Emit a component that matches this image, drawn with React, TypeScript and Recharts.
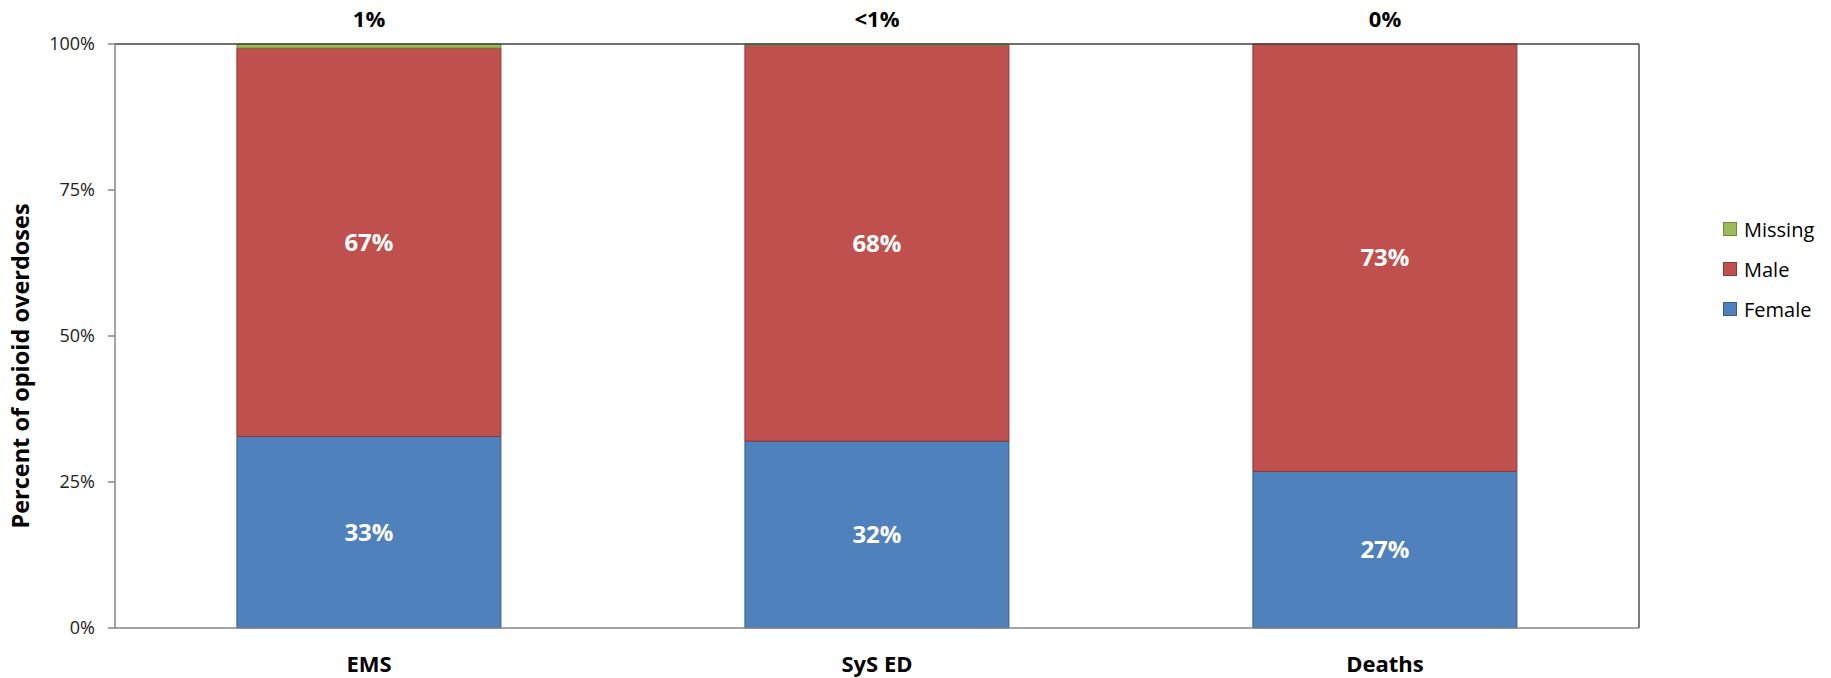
import React from 'react';
import { BarChart, Bar, XAxis, YAxis, Legend, LabelList } from 'recharts';

const categories = ['EMS', 'SyS ED', 'Deaths'];
const femaleValues = [32.8, 32.0, 26.8];
const maleValues = [66.5, 67.8, 73.2];
const missingValues = [0.7, 0.2, 0];
const topLabels = ['1%', '<1%', '0%'];
const yTicks = [0, 25, 50, 75, 100];

const data = categories.map((c, i) => ({
  category: c,
  Female: femaleValues[i],
  Male: maleValues[i],
  Missing: missingValues[i],
}));

const FONT = '"Open Sans", "DejaVu Sans", sans-serif';

const legendItems = [
  { name: 'Missing', fill: '#9BBB59', stroke: '#71893F' },
  { name: 'Male', fill: '#C0504D', stroke: '#8C3836' },
  { name: 'Female', fill: '#4F81BD', stroke: '#385D8A' },
];

const LegendContent = () => (
  <div style={{ fontFamily: FONT, fontSize: 20, color: '#000' }}>
    {legendItems.map((it) => (
      <div key={it.name} style={{ display: 'flex', alignItems: 'center', height: 40 }}>
        <div
          style={{
            width: 12,
            height: 12,
            background: it.fill,
            border: `1px solid ${it.stroke}`,
            marginRight: 7,
          }}
        />
        <span>{it.name}</span>
      </div>
    ))}
  </div>
);

const YTitle = (props: any) => {
  const vb = props.viewBox || {};
  const cx = vb.x - 15;
  const cy = vb.y + vb.height / 2 + 30;
  return (
    <text
      x={cx}
      y={cy}
      transform={`rotate(-90, ${cx}, ${cy})`}
      textAnchor="middle"
      dominantBaseline="central"
      fontFamily={FONT}
      fontWeight="bold"
      fontSize={23.5}
      fill="#000"
    >
      Percent of opioid overdoses
    </text>
  );
};

const fmt = (v: any) => `${Math.round(Number(v))}%`;

export default function App() {
  return (
    <div style={{ position: 'absolute', left: 0, top: 0, background: '#fff' }}>
      <BarChart
        width={1831}
        height={678}
        data={data}
        margin={{ top: 0, right: 191, bottom: 0, left: 35 }}
        barCategoryGap="24%"
        style={{ fontFamily: FONT }}
      >
        <XAxis
          xAxisId="top"
          orientation="top"
          dataKey="category"
          height={44}
          tickLine={false}
          tickSize={0}
          tickMargin={17}
          axisLine={{ stroke: '#404040', strokeWidth: 1.5 }}
          tickFormatter={(_v: any, i: number) => topLabels[i]}
          tick={{ fill: '#000', fontSize: 22, fontWeight: 'bold', fontFamily: FONT }}
        />
        <XAxis
          dataKey="category"
          height={50}
          tickLine={false}
          tickSize={0}
          tickMargin={28}
          axisLine={{ stroke: '#868686', strokeWidth: 1.5 }}
          tick={{ fill: '#000', fontSize: 22, fontWeight: 'bold', fontFamily: FONT }}
        />
        <YAxis
          width={80}
          domain={[0, 100]}
          ticks={yTicks}
          interval={0}
          tickFormatter={(v: number) => `${v}%`}
          tickSize={7}
          tickMargin={13}
          axisLine={{ stroke: '#868686', strokeWidth: 1.5 }}
          tickLine={{ stroke: '#868686', strokeWidth: 1.5 }}
          tick={{ fill: '#222', fontSize: 18, fontFamily: FONT }}
          label={<YTitle />}
        />
        <YAxis
          yAxisId="right"
          orientation="right"
          width={1}
          domain={[0, 100]}
          tick={false}
          tickLine={false}
          axisLine={{ stroke: '#505050', strokeWidth: 1.5 }}
        />
        <Legend
          layout="horizontal"
          align="center"
          verticalAlign="middle"
          content={<LegendContent />}
          wrapperStyle={{ left: 1723, top: 209, width: 110 }}
        />
        <Bar dataKey="Female" stackId="a" fill="#4F81BD" stroke="#385D8A" strokeWidth={1} isAnimationActive={false}>
          <LabelList dataKey="Female" position="center" formatter={fmt} fill="#fff" fontSize={24} fontWeight="bold" fontFamily={FONT} />
        </Bar>
        <Bar dataKey="Male" stackId="a" fill="#C0504D" stroke="#8C3836" strokeWidth={1} isAnimationActive={false}>
          <LabelList dataKey="Male" position="center" formatter={fmt} fill="#fff" fontSize={24} fontWeight="bold" fontFamily={FONT} />
        </Bar>
        <Bar dataKey="Missing" stackId="a" fill="#9BBB59" stroke="#71893F" strokeWidth={1} isAnimationActive={false} />
      </BarChart>
    </div>
  );
}
